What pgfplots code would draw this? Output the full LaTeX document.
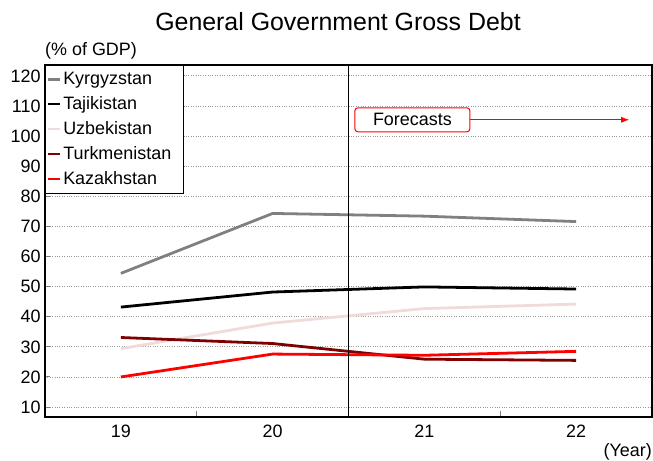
\documentclass[border=0pt]{standalone}
\usepackage{fontspec}
\setmainfont{Liberation Sans}
\usepackage{pgfplots}
\pgfplotsset{compat=1.18}
\usetikzlibrary{arrows.meta}
\definecolor{kyr}{RGB}{128,128,128}
\definecolor{uzb}{RGB}{240,218,218}
\definecolor{tur}{RGB}{128,0,0}
\begin{document}
\begin{tikzpicture}
\useasboundingbox (0,0) rectangle (653bp,461bp);
\node[font=\fontsize{25}{25}\selectfont] at (338bp,439bp) {General Government Gross Debt};
\begin{axis}[at={(45bp,44bp)}, anchor=south west, scale only axis,
  width=607bp, height=352bp,
  xmin=-0.5, xmax=3.5, ymin=6.7, ymax=123.6,
  xtick={0,1,2,3}, xticklabels={19,20,21,22},
  minor xtick={0.5,2.5},
  ytick={10,20,...,120},
  ymajorgrids, grid style={gray!80, dotted, line width=0.8pt},
  axis line style={line width=1.3pt},
  major x tick style={draw=none},
  minor tick style={gray, line width=1pt},
  major y tick style={gray, line width=1pt},
  major tick length=5bp, minor tick length=6bp,
  tick pos=left,
  /pgf/number format/assume math mode=true,
  ticklabel style={font=\fontsize{18}{18}\selectfont},
  yticklabel style={xshift=-1bp},
  xticklabel style={yshift=-4bp},
  clip=false,
  legend cell align=left,
  legend style={at={(0,1)}, anchor=north west, draw=black, line width=1pt,
    font=\fontsize{18}{21}\selectfont, inner xsep=1bp, inner ysep=5bp,
    row sep=6.5bp},
  legend image code/.code={\draw[#1, line width=2.8pt] (0bp,0bp) -- (12bp,0bp);},
  every axis plot/.append style={line width=2.8pt},
]
\addplot[kyr] coordinates {(0,54.4) (1,74.3) (2,73.4) (3,71.6)};
\addlegendentry{Kyrgyzstan}
\addplot[black] coordinates {(0,43.2) (1,48.2) (2,49.9) (3,49.2)};
\addlegendentry{Tajikistan}
\addplot[uzb] coordinates {(0,29.4) (1,37.9) (2,42.7) (3,44.2)};
\addlegendentry{Uzbekistan}
\addplot[tur] coordinates {(0,33.1) (1,31.1) (2,25.9) (3,25.5)};
\addlegendentry{\makebox[117bp][l]{Turkmenistan}}
\addplot[red] coordinates {(0,20.0) (1,27.6) (2,27.2) (3,28.5)};
\addlegendentry{Kazakhstan}
\draw[black, line width=1pt] (axis cs:1.5,6.7) -- (axis cs:1.5,123.6);
\node[draw=red, rounded corners=3bp, line width=1pt, minimum width=115bp, minimum height=24bp, fill=white, inner sep=0pt, font=\fontsize{18}{18}\selectfont] (fc) at (axis cs:1.921,105.4) {Forecasts};
\draw[red, line width=0.8pt, -{Latex[length=8bp,width=6bp]}] (fc.east) -- (axis cs:3.35,105.4);
\node[anchor=south west, inner sep=0pt, font=\fontsize{18}{18}\selectfont] at ([yshift=6bp]rel axis cs:0,1) {(\% of GDP)};
\end{axis}
\node[anchor=east, inner sep=0pt, font=\fontsize{18}{18}\selectfont] at (652bp,9bp) {(Year)};
\end{tikzpicture}
\end{document}
